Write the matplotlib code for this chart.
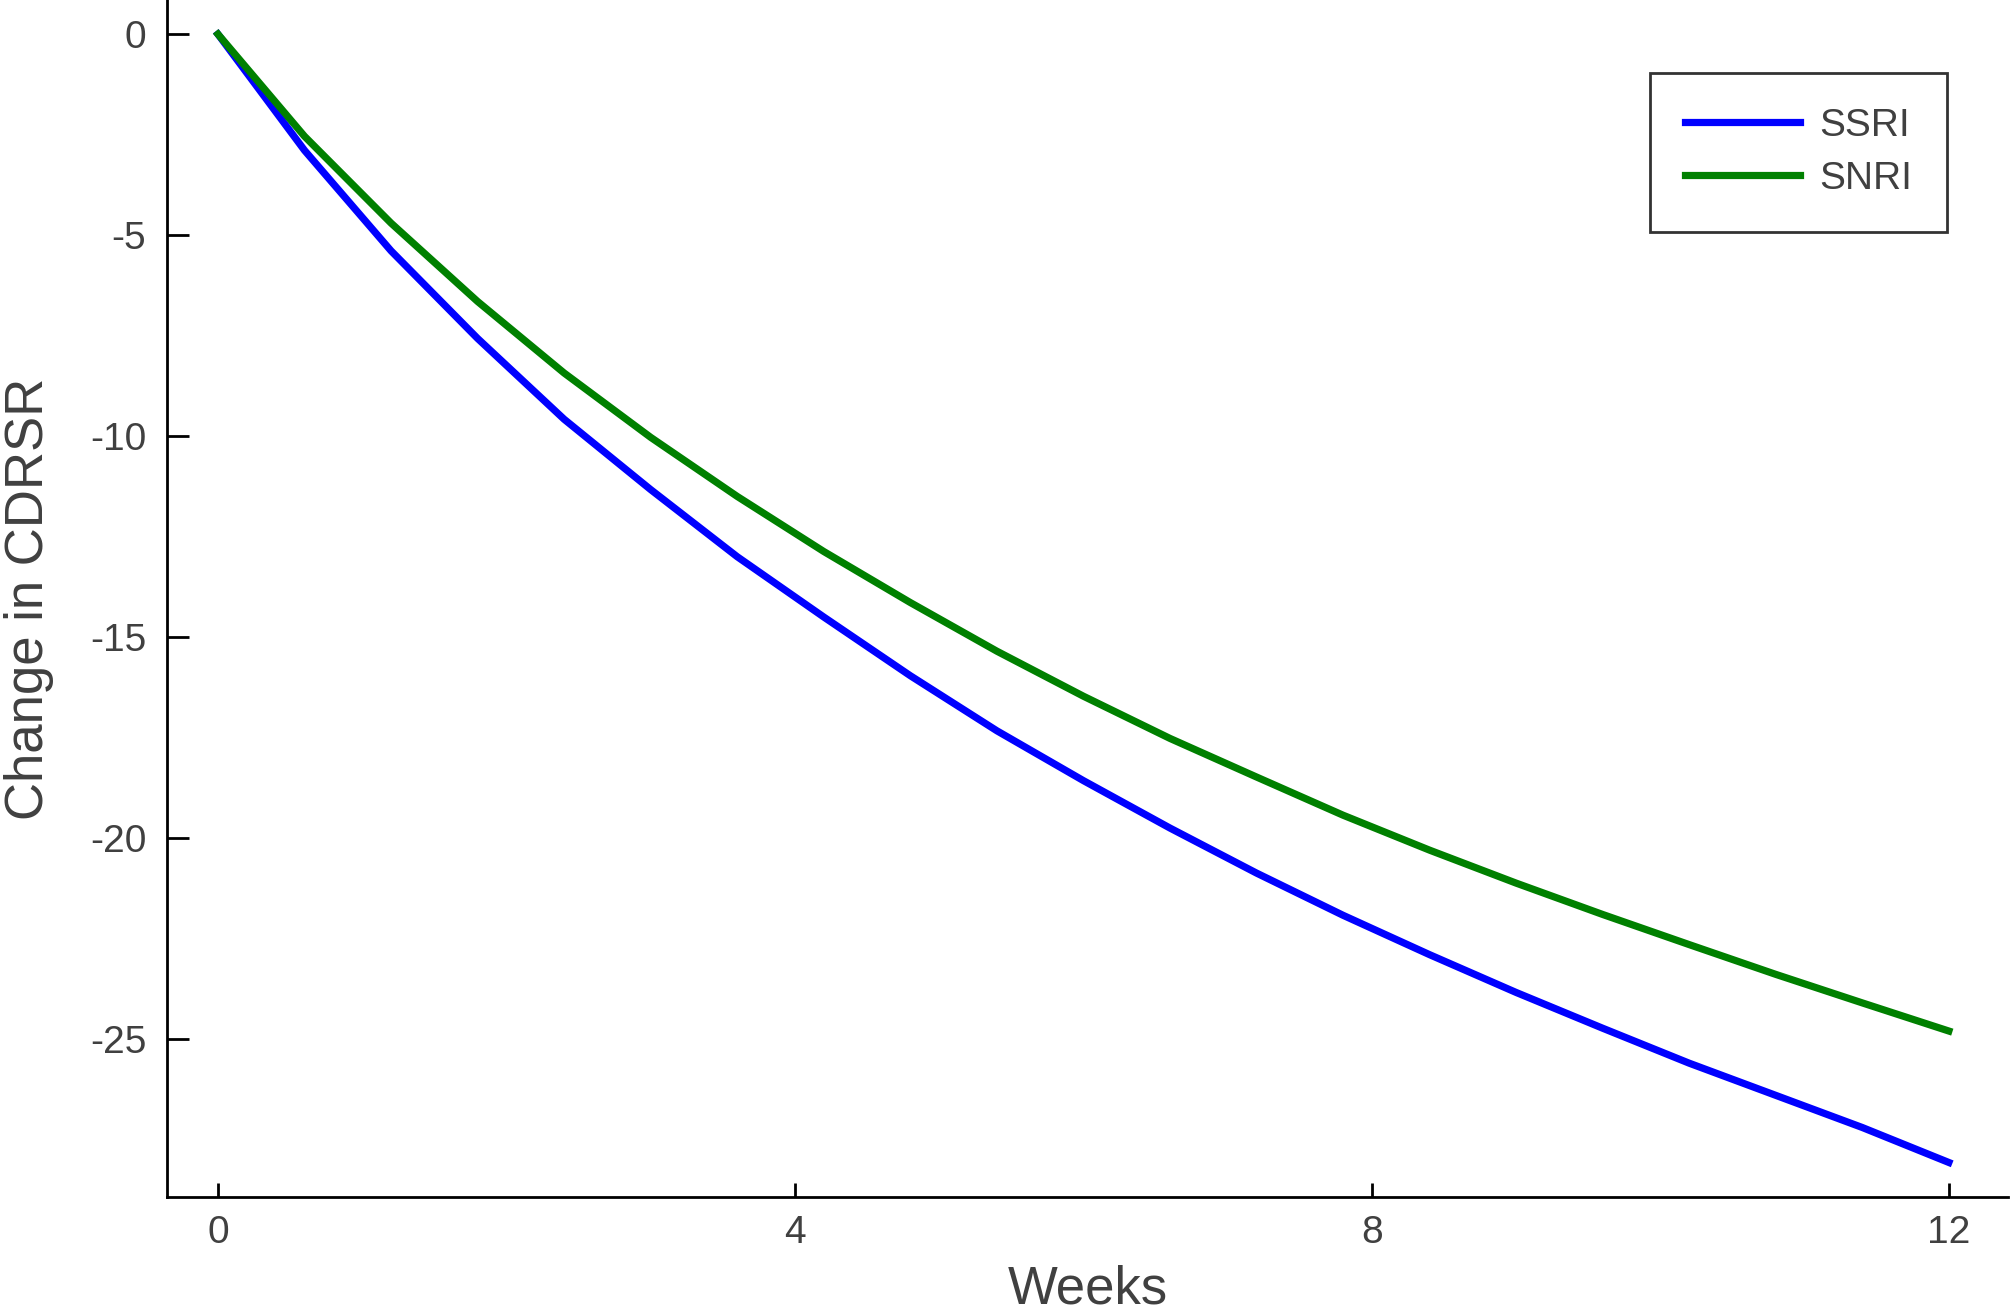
import numpy as np
import matplotlib
matplotlib.use('Agg')
import matplotlib.pyplot as plt

# data (weeks, change in CDRSR)
weeks = [0.0, 0.6, 1.2, 1.8, 2.4, 3.0, 3.6, 4.2, 4.8, 5.4, 6.0,
         6.6, 7.2, 7.8, 8.4, 9.0, 9.6, 10.2, 10.8, 11.4, 12.0]
ssri = [0.0, -2.89, -5.39, -7.57, -9.58, -11.33, -13.0, -14.5, -15.96, -17.33, -18.57,
        -19.75, -20.87, -21.92, -22.9, -23.84, -24.73, -25.6, -26.4, -27.2, -28.07]
snri = [0.0, -2.54, -4.7, -6.65, -8.43, -10.03, -11.5, -12.87, -14.14, -15.35, -16.47,
        -17.52, -18.48, -19.43, -20.3, -21.12, -21.9, -22.65, -23.39, -24.1, -24.8]
xticks = [0, 4, 8, 12]
yticks = [0, -5, -10, -15, -20, -25]

plt.rcParams['font.family'] = ['Liberation Sans', 'DejaVu Sans']
txt = '#404040'

fig = plt.figure(figsize=(20.1, 13.15), dpi=100)
ax = fig.add_axes([0.0831, 0.0897, 0.9159, 0.9103])

ax.plot(weeks, ssri, color='#0000ff', lw=5.2, label='SSRI')
ax.plot(weeks, snri, color='#008000', lw=5.2, label='SNRI')

ax.set_xlim(-0.353, 12.41)
ax.set_ylim(-28.93, 0.85)
ax.set_xticks(xticks)
ax.set_yticks(yticks)
ax.set_xticklabels([str(t) for t in xticks])
ax.set_yticklabels([str(t) for t in yticks])

for s in ['top', 'right']:
    ax.spines[s].set_visible(False)
for s in ['left', 'bottom']:
    ax.spines[s].set_linewidth(2)

ax.tick_params(axis='both', direction='in', width=2, labelsize=28, labelcolor=txt, color='black')
ax.tick_params(axis='x', length=10, pad=13)
ax.tick_params(axis='y', length=16, pad=15)

ax.set_xlabel('Weeks', fontsize=38, color=txt, labelpad=10)
ax.set_ylabel('Change in CDRSR', fontsize=38, color=txt, labelpad=26)

leg = ax.legend(loc='upper right', bbox_to_anchor=(0.9669, 0.939), fontsize=28,
                frameon=True, fancybox=False, edgecolor='black', handlelength=2.95,
                handletextpad=0.5, borderpad=0.9, labelspacing=0.43, borderaxespad=0)
leg.get_frame().set_linewidth(2)
for t in leg.get_texts():
    t.set_color(txt)

fig.savefig('out.png', dpi=100)
